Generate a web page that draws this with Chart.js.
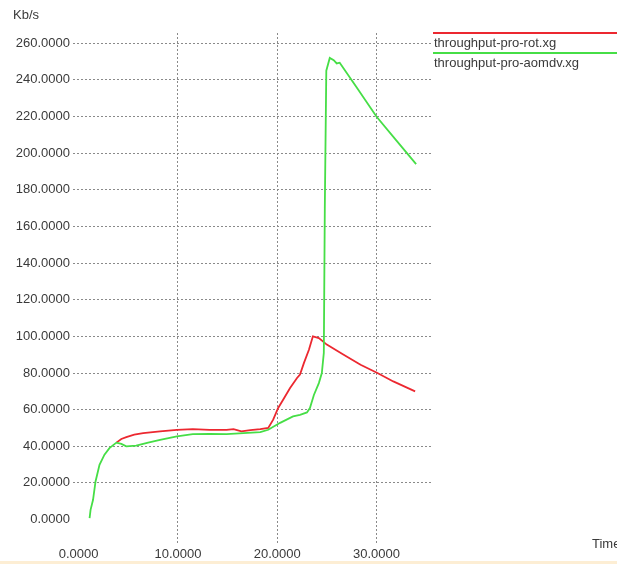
<!DOCTYPE html>
<html>
<head>
<meta charset="utf-8">
<script src="https://cdn.jsdelivr.net/npm/chart.js@4/dist/chart.umd.min.js"></script>
<style>
  html, body { margin: 0; padding: 0; background: #ffffff; }
  canvas { display: block; }
</style>
</head>
<body>
<canvas id="tp" width="617" height="564"></canvas>
<script>
// Throughput traces (simulation time in s, rate in Kb/s)
const rotTime   = [3.8, 4.3, 4.8, 5.6, 6.5, 8.2, 9.9, 11.5, 13.2, 14.9, 15.6, 16.4, 17.3, 18.3, 19.1, 19.6, 20.1, 20.6, 21.3, 22.0, 22.3, 22.7, 23.2, 23.6, 24.2, 25.0, 26.7, 28.4, 30.1, 31.7, 33.9];
const rotRate   = [42, 44, 45, 46.3, 47.2, 48.1, 49, 49.4, 49, 49, 49.4, 48.1, 48.8, 49.4, 50, 54.5, 60.9, 65.4, 71.8, 77.3, 79.1, 85.5, 92.7, 100, 99.1, 95.5, 90, 84.5, 80, 75.4, 70];

const aomdvTime = [1.1, 1.2, 1.45, 1.7, 2.1, 2.6, 3.1, 3.8, 4.3, 4.8, 5.8, 7.0, 8.2, 9.9, 11.5, 13.2, 14.9, 16.6, 18.3, 19.1, 20.3, 21.6, 22.3, 23.0, 23.3, 23.7, 24.2, 24.5, 24.7, 24.8, 24.95, 25.3, 25.7, 26.0, 26.3, 28.0, 30.0, 32.0, 34.0];
const aomdvRate = [0.8, 5.3, 10.8, 20.8, 29.9, 35.4, 39, 42, 41.3, 40, 40.3, 42, 43.5, 45.4, 46.6, 46.8, 46.6, 47.2, 47.7, 49, 52.8, 56.3, 57.2, 58.5, 60.9, 68, 74.5, 80, 91, 170, 245, 252, 250.8, 249, 249.4, 236, 220, 207, 194];

const xTicks = [0, 10, 20, 30];
const yTicks = [0, 20, 40, 60, 80, 100, 120, 140, 160, 180, 200, 220, 240, 260];

const seriesNames = ['throughput-pro-rot.xg', 'throughput-pro-aomdv.xg'];
const seriesColors = ['rgb(236,40,48)', 'rgb(70,222,70)'];

const toPoints = (xs, ys) => xs.map((x, i) => ({ x: x, y: ys[i] }));

const TEXT = '#3a3a3a';
const GRID = '#8a8a8a';
const FONT = '13px "Liberation Sans", Arial, sans-serif';

Chart.defaults.font.family = '"Liberation Sans", Arial, sans-serif';
Chart.defaults.font.size = 13;
Chart.defaults.color = TEXT;

// Axis captions, the legend in xgraph style and the window's bottom edge
const decorations = {
  id: 'decorations',
  afterDraw(chart) {
    const ctx = chart.ctx;
    const area = chart.chartArea;
    ctx.save();
    ctx.setLineDash([]);
    ctx.globalAlpha = 1;
    ctx.font = FONT;
    ctx.textBaseline = 'middle';
    ctx.textAlign = 'left';
    ctx.fillStyle = TEXT;
    ctx.fillText('Kb/s', 13, 15);
    ctx.fillText('Time', 592, area.bottom + 1);

    const lx = Math.round(area.right);
    seriesNames.forEach((name, i) => {
      const ly = 32 + i * 20;
      ctx.fillStyle = seriesColors[i];
      ctx.fillRect(lx, ly, chart.width - lx, 2);
      ctx.fillStyle = TEXT;
      ctx.fillText(name, lx + 1, ly + 11);
    });

    ctx.fillStyle = 'rgb(253,238,212)';
    ctx.fillRect(0, chart.height - 3, chart.width, 3);
    ctx.restore();
  }
};

new Chart(document.getElementById('tp'), {
  type: 'line',
  data: {
    datasets: [
      {
        label: seriesNames[0],
        data: toPoints(rotTime, rotRate),
        borderColor: seriesColors[0],
        borderWidth: 1.8,
        pointRadius: 0,
        tension: 0,
        order: 1
      },
      {
        label: seriesNames[1],
        data: toPoints(aomdvTime, aomdvRate),
        borderColor: seriesColors[1],
        borderWidth: 1.8,
        pointRadius: 0,
        tension: 0,
        order: 0
      }
    ]
  },
  options: {
    responsive: false,
    animation: false,
    events: [],
    layout: { padding: { top: 33, right: 184, bottom: 0, left: 0 } },
    plugins: {
      legend: { display: false },
      tooltip: { enabled: false },
      title: { display: false }
    },
    scales: {
      x: {
        type: 'linear',
        min: -0.57,
        max: 35.7,
        afterBuildTicks: s => { s.ticks = xTicks.map(v => ({ value: v })); },
        afterFit: s => { s.height = 21; },
        ticks: {
          padding: 4,
          maxRotation: 0,
          color: TEXT,
          font: { size: 13 },
          callback: v => Number(v).toFixed(4)
        },
        grid: {
          drawTicks: false,
          lineWidth: 1,
          color: c => (c.tick && c.tick.value === 0) ? 'rgba(0,0,0,0)' : GRID
        },
        border: { display: false, dash: [2, 2] }
      },
      y: {
        type: 'linear',
        min: -12.8,
        max: 265.6,
        afterBuildTicks: s => { s.ticks = yTicks.map(v => ({ value: v })); },
        afterFit: s => { s.width = 73; },
        ticks: {
          padding: 3,
          color: TEXT,
          font: { size: 13 },
          callback: v => Number(v).toFixed(4)
        },
        grid: {
          drawTicks: false,
          lineWidth: 1,
          color: c => (c.tick && c.tick.value === 0) ? 'rgba(0,0,0,0)' : GRID
        },
        border: { display: false, dash: [2, 2] }
      }
    }
  },
  plugins: [decorations]
});
</script>
</body>
</html>
